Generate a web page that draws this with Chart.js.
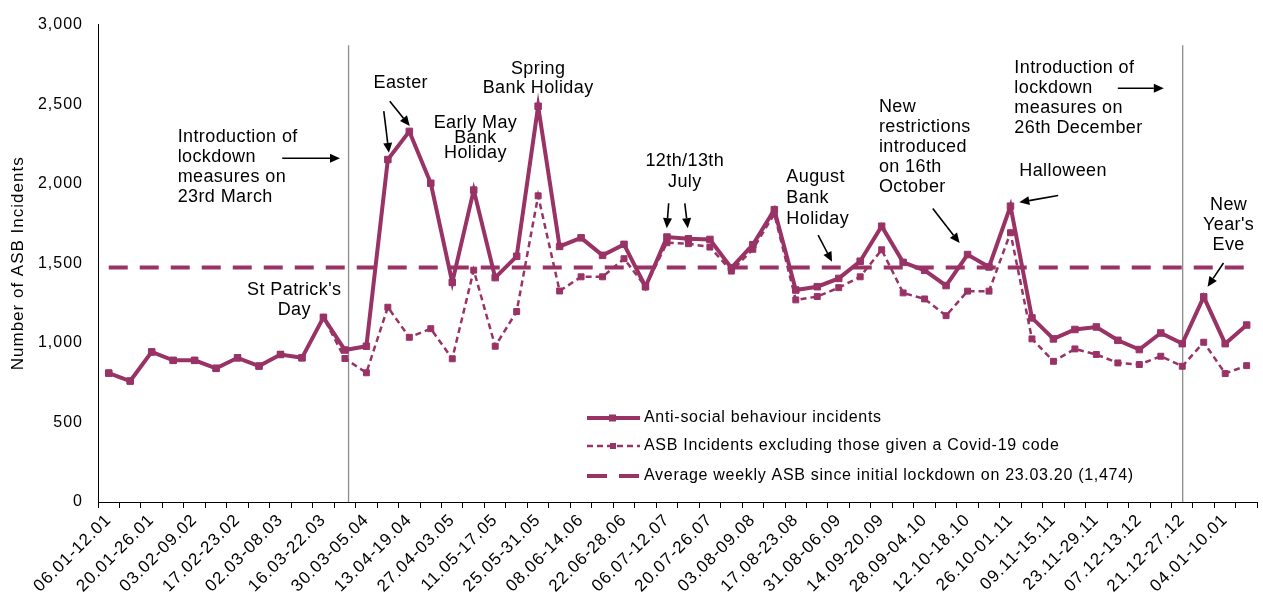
<!DOCTYPE html>
<html>
<head>
<meta charset="utf-8">
<script src="https://cdn.jsdelivr.net/npm/chart.js@4.4.0/dist/chart.umd.min.js"></script>
<style>
  html, body { margin: 0; padding: 0; background: #fff; }
</style>
</head>
<body>
<canvas id="myChart" width="1263" height="608"></canvas>
<script>
// DATA
const weeks = [
  '06.01-12.01', '13.01-19.01', '20.01-26.01', '27.01-02.02', '03.02-09.02', '10.02-16.02',
  '17.02-23.02', '24.02-01.03', '02.03-08.03', '09.03-15.03', '16.03-22.03', '23.03-29.03',
  '30.03-05.04', '06.04-12.04', '13.04-19.04', '20.04-26.04', '27.04-03.05', '04.05-10.05',
  '11.05-17.05', '18.05-24.05', '25.05-31.05', '01.06-07.06', '08.06-14.06', '15.06-21.06',
  '22.06-28.06', '29.06-05.07', '06.07-12.07', '13.07-19.07', '20.07-26.07', '27.07-02.08',
  '03.08-09.08', '10.08-16.08', '17.08-23.08', '24.08-30.08', '31.08-06.09', '07.09-13.09',
  '14.09-20.09', '21.09-27.09', '28.09-04.10', '05.10-11.10', '12.10-18.10', '19.10-25.10',
  '26.10-01.11', '02.11-08.11', '09.11-15.11', '16.11-22.11', '23.11-29.11', '30.11-06.12',
  '07.12-13.12', '14.12-20.12', '21.12-27.12', '28.12-03.01', '04.01-10.01', '11.01-17.01'
];

const asbIncidents = [
  810, 760, 943, 890, 890, 840, 906, 854, 927, 906, 1160, 955,
  979, 2152, 2329, 2003, 1380, 1960, 1410, 1544, 2487, 1606, 1660, 1550,
  1619, 1353, 1665, 1654, 1650, 1471, 1617, 1837, 1332, 1353, 1405, 1513,
  1733, 1506, 1456, 1360, 1555, 1477, 1859, 1157, 1025, 1084, 1100, 1016,
  958, 1062, 995, 1289, 995, 1112
];

const asbExclCovid = [
  810, 760, 943, 890, 890, 840, 906, 854, 927, 906, 1160, 902,
  812, 1224, 1035, 1089, 900, 1457, 979, 1197, 1924, 1326, 1415, 1415,
  1529, 1353, 1629, 1623, 1602, 1451, 1588, 1810, 1270, 1291, 1347, 1415,
  1585, 1314, 1276, 1171, 1325, 1325, 1692, 1025, 884, 962, 927, 874,
  864, 916, 853, 1004, 807, 857
];

const averageAsb = 1474;
const yTicks = [0, 500, 1000, 1500, 2000, 2500, 3000];

const seriesNames = [
  'Anti-social behaviour incidents',
  'ASB Incidents excluding those given a Covid-19 code',
  'Average weekly ASB since initial lockdown on 23.03.20 (1,474)'
];

// annotations (x in week index, y in incidents)
const lockdownLines = [11.17, 50.02];

const notes = [
  { i: 8.64, v: 1303, align: 'center', lh: 20, lines: ["St Patrick's", 'Day'] },
  { i: 3.21, v: 2263, align: 'left', lh: 20, lines: ['Introduction of', 'lockdown', 'measures on', '23rd March'] },
  { i: 13.6, v: 2600, align: 'center', lh: 20, lines: ['Easter'] },
  { i: 17.08, v: 2351, align: 'center', lh: 15, lines: ['Early May', 'Bank', 'Holiday'] },
  { i: 20.0, v: 2687, align: 'center', lh: 19, lines: ['Spring', 'Bank Holiday'] },
  { i: 26.83, v: 2114, align: 'center', lh: 21, lines: ['12th/13th', 'July'] },
  { i: 31.56, v: 2008, align: 'left', lh: 21, lines: ['August', 'Bank', 'Holiday'] },
  { i: 35.87, v: 2450, align: 'left', lh: 20, lines: ['New', 'restrictions', 'introduced', 'on 16th', 'October'] },
  { i: 44.45, v: 2051, align: 'center', lh: 20, lines: ['Halloween'] },
  { i: 42.18, v: 2694, align: 'left', lh: 20, lines: ['Introduction of', 'lockdown', 'measures on', '26th December'] },
  { i: 52.16, v: 1836, align: 'center', lh: 20, lines: ['New', "Year's", 'Eve'] }
];

const arrows = [
  [8.08, 2160, 10.77, 2160],
  [12.81, 2456, 13.05, 2194],
  [13.09, 2519, 14.02, 2363],
  [26.08, 1877, 25.99, 1721],
  [26.83, 1877, 26.97, 1721],
  [33.04, 1677, 33.69, 1509],
  [38.38, 1845, 39.63, 1627],
  [44.22, 1926, 42.41, 1883],
  [47.0, 2600, 49.14, 2600],
  [51.92, 1502, 51.18, 1353]
];

const purple = '#993366';
const fontFamily = "'Liberation Sans', Arial, sans-serif";

//FUNCTIONS
function drawArrow(ctx, x1, y1, x2, y2) {
  const ang = Math.atan2(y2 - y1, x2 - x1);
  const head = 10, w = 4.5;
  const bx = x2 - head * Math.cos(ang), by = y2 - head * Math.sin(ang);
  ctx.beginPath();
  ctx.moveTo(x1, y1);
  ctx.lineTo(bx, by);
  ctx.stroke();
  ctx.beginPath();
  ctx.moveTo(x2, y2);
  ctx.lineTo(bx + w * Math.sin(ang), by - w * Math.cos(ang));
  ctx.lineTo(bx - w * Math.sin(ang), by + w * Math.cos(ang));
  ctx.closePath();
  ctx.fill();
}

const annotationsPlugin = {
  id: 'annotations',
  beforeUpdate(chart) { chart.ctx.letterSpacing = '1px'; },
  beforeDraw(chart) { chart.ctx.letterSpacing = '1px'; },
  beforeDatasetsDraw(chart) {
    const ctx = chart.ctx, xs = chart.scales.x, ys = chart.scales.y;
    ctx.save();
    ctx.strokeStyle = '#8c8c8c';
    ctx.lineWidth = 1.3;
    lockdownLines.forEach(i => {
      const x = xs.getPixelForValue(i);
      ctx.beginPath();
      ctx.moveTo(x, ys.getPixelForValue(2870));
      ctx.lineTo(x, ys.getPixelForValue(0));
      ctx.stroke();
    });
    ctx.restore();
  },
  afterDraw(chart) {
    const ctx = chart.ctx, xs = chart.scales.x, ys = chart.scales.y;
    ctx.save();

    // notes
    ctx.fillStyle = '#000';
    ctx.font = '18px ' + fontFamily;
    ctx.letterSpacing = '0.4px';
    ctx.textBaseline = 'alphabetic';
    notes.forEach(n => {
      const x = xs.getPixelForValue(n.i);
      const y = ys.getPixelForValue(n.v);
      ctx.textAlign = n.align;
      n.lines.forEach((t, k) => ctx.fillText(t, x, y + k * n.lh));
    });

    // arrows
    ctx.strokeStyle = '#000';
    ctx.lineWidth = 1.6;
    arrows.forEach(a => {
      drawArrow(ctx, xs.getPixelForValue(a[0]), ys.getPixelForValue(a[1]),
        xs.getPixelForValue(a[2]), ys.getPixelForValue(a[3]));
    });

    // y title
    ctx.save();
    ctx.translate(18, (chart.chartArea.top + chart.chartArea.bottom) / 2);
    ctx.rotate(-Math.PI / 2);
    ctx.font = '17px ' + fontFamily;
    ctx.letterSpacing = '1px';
    ctx.textAlign = 'center';
    ctx.textBaseline = 'middle';
    ctx.fillText('Number of ASB Incidents', 0, 0);
    ctx.restore();

    // legend
    const lx1 = 587, lx2 = 640, tx = 644;
    const rows = [418, 446, 476];
    ctx.strokeStyle = purple;
    ctx.fillStyle = purple;
    ctx.lineCap = 'butt';

    ctx.lineWidth = 4;
    ctx.setLineDash([]);
    ctx.beginPath(); ctx.moveTo(lx1, rows[0]); ctx.lineTo(lx2, rows[0]); ctx.stroke();
    ctx.fillRect(609, rows[0] - 3.5, 7, 7);

    ctx.lineWidth = 2.5;
    ctx.setLineDash([6, 4]);
    ctx.beginPath(); ctx.moveTo(lx1, rows[1]); ctx.lineTo(lx2, rows[1]); ctx.stroke();
    ctx.setLineDash([]);
    ctx.fillRect(610, rows[1] - 3, 6, 6);

    ctx.lineWidth = 4;
    ctx.setLineDash([20, 12]);
    ctx.beginPath(); ctx.moveTo(lx1, rows[2]); ctx.lineTo(lx2, rows[2]); ctx.stroke();
    ctx.setLineDash([]);

    ctx.fillStyle = '#000';
    ctx.font = '16px ' + fontFamily;
    ctx.letterSpacing = '0.7px';
    ctx.textAlign = 'left';
    ctx.textBaseline = 'middle';
    seriesNames.forEach((s, k) => ctx.fillText(s, tx, rows[k]));

    ctx.restore();
  }
};

Chart.defaults.font.family = fontFamily;
Chart.defaults.color = '#000';

const ctx = document.getElementById('myChart');

new Chart(ctx, {
  type: 'line',
  data: {
    labels: weeks,
    datasets: [{
      label: seriesNames[0],
      data: asbIncidents,
      borderColor: purple,
      backgroundColor: purple,
      borderWidth: 4,
      pointStyle: 'rect',
      pointRadius: 4.6,
      pointBorderWidth: 1,
      tension: 0
    }, {
      label: seriesNames[1],
      data: asbExclCovid,
      borderColor: purple,
      backgroundColor: purple,
      borderWidth: 2.5,
      borderDash: [6, 4],
      pointStyle: 'rect',
      pointRadius: 4.2,
      pointBorderWidth: 1,
      tension: 0
    }, {
      label: seriesNames[2],
      data: weeks.map(() => averageAsb),
      borderColor: purple,
      borderWidth: 4,
      borderDash: [19, 12],
      borderCapStyle: 'butt',
      pointRadius: 0,
      tension: 0
    }]
  },
  options: {
    responsive: false,
    devicePixelRatio: 1,
    animation: false,
    layout: { padding: { top: 21, right: 1, left: 0, bottom: 0 } },
    plugins: {
      legend: { display: false },
      tooltip: { enabled: false }
    },
    scales: {
      x: {
        offset: true,
        grid: { offset: true, drawOnChartArea: false, drawTicks: true, tickLength: 6, color: '#000', lineWidth: 1 },
        border: { display: true, color: '#000', width: 1 },
        ticks: {
          autoSkip: false,
          maxRotation: 45,
          minRotation: 45,
          padding: 2,
          font: { size: 17 },
          callback: (v, i) => (i % 2 === 0 ? weeks[i] : '')
        },
        afterFit: s => { s.height = 106; s.paddingLeft = 0; s.paddingRight = 0; }
      },
      y: {
        min: 0,
        max: 3000,
        grid: { display: false, drawTicks: false },
        border: { display: true, color: '#000', width: 1 },
        ticks: {
          padding: 15,
          font: { size: 16 },
          callback: v => v.toLocaleString('en-US')
        },
        afterBuildTicks: s => { s.ticks = yTicks.map(v => ({ value: v })); },
        afterFit: s => { s.width = 98; }
      }
    }
  },
  plugins: [annotationsPlugin]
});
</script>
</body>
</html>
